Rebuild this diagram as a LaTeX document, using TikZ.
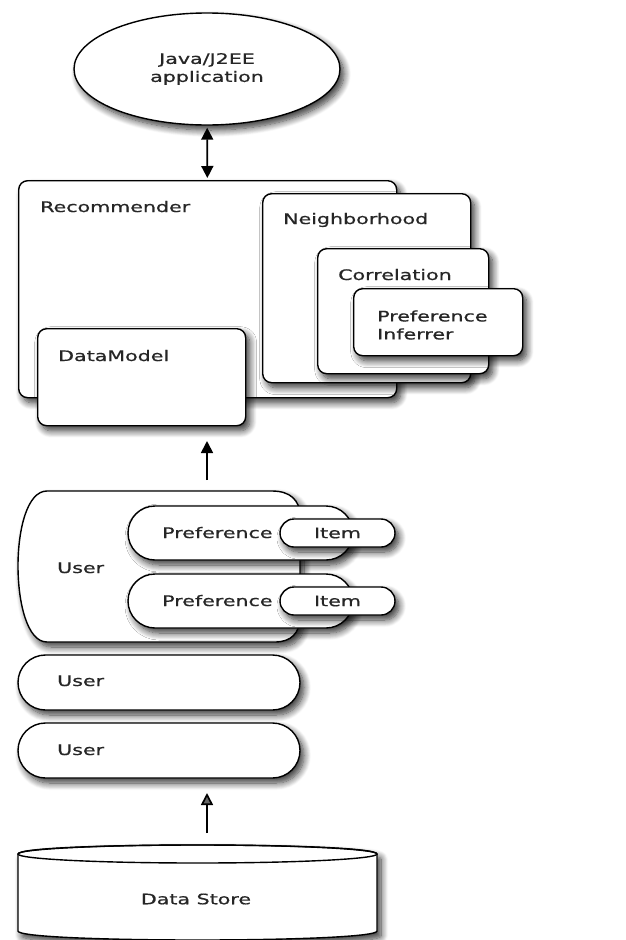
\documentclass[tikz,border=0pt]{standalone}
\usepackage{fontspec}
\setmainfont{DejaVu Sans}[BoldFont={DejaVu Sans},
    BoldFeatures={FakeBold=0.6}]
\usepackage{tikz}
\usetikzlibrary{shapes.geometric,shapes.misc,shadows.blur,arrows.meta}
\newcommand{\stretchtxt}[1]{\scalebox{1.42}[1]{#1}}

\begin{document}
\begin{tikzpicture}[x=1pt,y=-1pt,
        glow/.style = {blur shadow={shadow xshift=4pt,
        shadow yshift=-5pt, shadow blur radius=7pt,
        shadow blur steps=10, shadow opacity=80}},
        box/.style = {draw, line width=1.4pt, rounded corners=9pt,
        fill=white, glow, anchor=north west, inner sep=0pt},
        pill/.style = {rounded rectangle, draw, line width=1.4pt,
        fill=white, glow, inner sep=0pt},
        txt/.style = {font=\fontsize{14.5}{18}\selectfont\bfseries,
        text=black!85, inner sep=0pt},
        arr/.style = {line width=1.7pt,
        >={Triangle[length=12pt,width=12pt]}}]

        \useasboundingbox (0,0) rectangle (626,940);

        % Application
        \node [ellipse, draw, line width=1.4pt, fill=white, glow,
            minimum width=266pt, minimum height=112pt, txt, align=center]
            (app) at (207,69) {\stretchtxt{Java/J2EE}\\\stretchtxt{application}};

        % Recommender and its parts
        \node [box, minimum width=378pt, minimum height=217pt] (rec) at (18,180) {};
        \node [txt, anchor=base west] (recTxt) at (40,212) {\stretchtxt{Recommender}};

        \node [box, minimum width=208pt, minimum height=189pt] (nbh) at (262,193) {};
        \node [txt, anchor=base west] (nbhTxt) at (283,224) {\stretchtxt{Neighborhood}};

        \node [box, minimum width=171pt, minimum height=125pt] (corr) at (317,248) {};
        \node [txt, anchor=base west] (corrTxt) at (338,280) {\stretchtxt{Correlation}};

        \node [box, minimum width=169pt, minimum height=67pt] (inf) at (353,288) {};
        \node [txt, anchor=west, align=left] (infTxt) at (377,325)
            {\stretchtxt{Preference}\\\stretchtxt{Inferrer}};

        \node [box, minimum width=208pt, minimum height=97pt] (dm) at (37,328) {};
        \node [txt, anchor=base west] (dmTxt) at (58,361) {\stretchtxt{DataModel}};

        % App <-> Recommender
        \draw [arr, <->, shorten <=2pt, shorten >=2pt] (app) -- (rec);

        % Users into DataModel
        \coordinate (dmIn) at (207,441);
        \coordinate (usrOut) at (207,480);
        \draw [arr, ->] (usrOut) -- (dmIn);

        % User with preferences
        \draw [line width=1.4pt, fill=white, glow] (47,491) -- (272,491)
            .. controls (290,491) and (300,500) .. (300,516) -- (300,617)
            .. controls (300,633) and (291,642) .. (275,642) -- (47,642)
            .. controls (27,642) and (18,602) .. (18,566)
            .. controls (18,530) and (27,491) .. (47,491) -- cycle;
        \node [txt, anchor=base west] (usr1Txt) at (57,573) {\stretchtxt{User}};

        \node [pill, minimum width=225pt, minimum height=54pt] (pref1) at (240.5,533) {};
        \node [txt, anchor=base west] (pref1Txt) at (162,538) {\stretchtxt{Preference}};
        \node [pill, txt, minimum width=115pt, minimum height=28pt] (item1) at (337.5,533)
            {\stretchtxt{Item}};

        \node [pill, minimum width=225pt, minimum height=54pt] (pref2) at (240.5,601) {};
        \node [txt, anchor=base west] (pref2Txt) at (162,606) {\stretchtxt{Preference}};
        \node [pill, txt, minimum width=115pt, minimum height=28pt] (item2) at (337.5,601)
            {\stretchtxt{Item}};

        % More users
        \node [pill, minimum width=282pt, minimum height=55pt] (usr2) at (159,682.5) {};
        \node [txt, anchor=base west] (usr2Txt) at (57,686) {\stretchtxt{User}};

        \node [pill, minimum width=282pt, minimum height=55pt] (usr3) at (159,750.5) {};
        \node [txt, anchor=base west] (usr3Txt) at (57,755) {\stretchtxt{User}};

        % Store into users
        \coordinate (usrIn) at (207,793);
        \coordinate (dbOut) at (207,833);
        \draw [arr, ->] (dbOut) -- (usrIn);

        % Data store
        \draw [line width=1.4pt, fill=white, glow] (18,854) -- (18,931)
            .. controls (18,943) and (377,943) .. (377,931) -- (377,854)
            .. controls (377,842) and (18,842) .. (18,854) -- cycle;
        \draw [line width=1.4pt] (197.5,854) ellipse [x radius=179.5pt, y radius=9pt];
        \node [txt] (dbTxt) at (196,899) {\stretchtxt{Data Store}};

    \end{tikzpicture}
\end{document}
